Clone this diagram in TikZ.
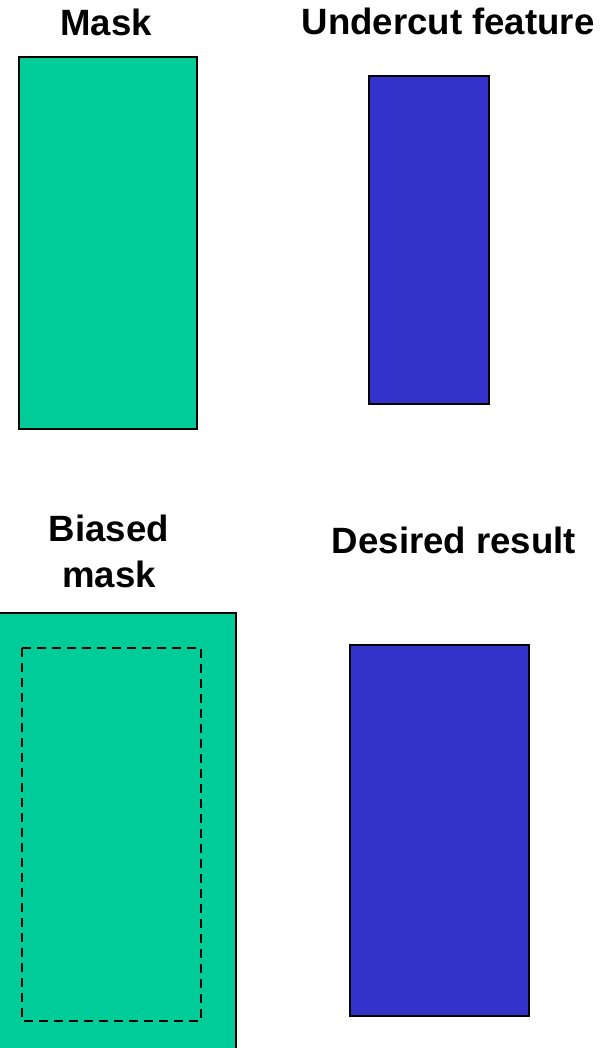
\documentclass[tikz,border=0pt]{standalone}
\usepackage{fontspec}
\setmainfont{Liberation Sans}
\definecolor{maskgreen}{HTML}{00CC99}
\definecolor{featblue}{HTML}{3333CC}
\tikzset{
  lbl/.style={font=\bfseries\fontsize{36.6pt}{46pt}\selectfont, inner sep=0pt, anchor=base},
  maskbox/.style={fill=maskgreen, draw=black, line width=1.5pt},
  featbox/.style={fill=featblue, draw=black, line width=1.5pt},
  dashbox/.style={draw=black, line width=1.5pt, dash pattern=on 9pt off 6pt}
}
\begin{document}
\begin{tikzpicture}[x=1pt,y=-1pt]
\useasboundingbox (0,0) rectangle (606,1048);
\clip (0,0) rectangle (606,1048);
\node[lbl] (tmask) at (106,36) {Mask};
\node[lbl] (tunder) at (448,35) {Undercut feature};
\node[lbl] (tbias1) at (109,541) {Biased};
\node[lbl] (tbias2) at (109,587) {mask};
\node[lbl] (tdes) at (454,553) {Desired result};
\draw[maskbox] (19,57) rectangle (197,429);
\draw[featbox] (369,76) rectangle (489,404);
\draw[maskbox] (-3,613) rectangle (236,1060);
\draw[dashbox] (22,648) rectangle (201,1021);
\draw[featbox] (350,645) rectangle (529,1016);
\end{tikzpicture}
\end{document}
